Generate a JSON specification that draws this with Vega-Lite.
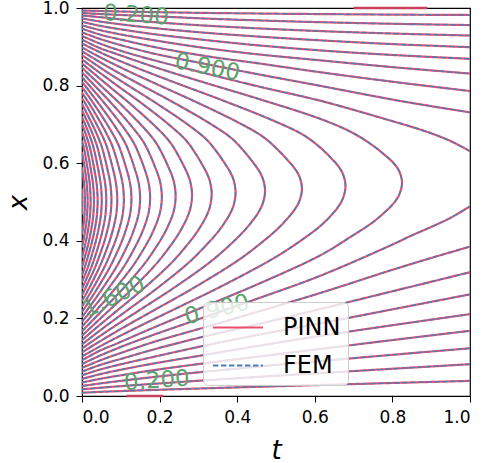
{
"$schema":"https://vega.github.io/schema/vega-lite/v6.json",
"width":388,"height":388,"autosize":"none",
"padding":{"left":82,"top":8,"right":15,"bottom":67},
"background":"white",
"config":{
"view":{"stroke":"black","strokeWidth":1.2},
"axis":{"domain":false,"grid":false,"tickColor":"black","tickSize":6,"tickWidth":1,"labelFont":"DejaVu Sans","labelFontSize":17,"labelColor":"black","titleFont":"DejaVu Sans","titleFontSize":26,"titleFontStyle":"italic","titleFontWeight":"normal","titleColor":"black"},
"legend":{"symbolType":"M-0.89,0H1.97","symbolSize":1225,"symbolStrokeWidth":2,"labelFont":"DejaVu Sans","labelFontSize":24,"labelColor":"black","labelOffset":36,"padding":7,"rowPadding":7,"fillColor":"rgba(255,255,255,0.8)","strokeColor":"#cccccc","cornerRadius":5}
},
"datasets":{
"z":[{"g":"z1","t":0.70,"x":1},{"g":"z1","t":0.89,"x":1},{"g":"z2","t":0.115,"x":0},{"g":"z2","t":0.21,"x":0}],
"lab":[{"k":"a","s":"0.200","t":0.139,"x":0.981},{"k":"b","s":"0.900","t":0.323,"x":0.847},{"k":"c","s":"1.600","t":0.0825,"x":0.255},{"k":"d","s":"0.900","t":0.348,"x":0.222},{"k":"e","s":"0.200","t":0.193,"x":0.039}],
"c":[
{"g":"0.1a","t":0,"x":0.0085},{"g":"0.1a","t":0.046,"x":0.0106},{"g":"0.1a","t":0.108,"x":0.013},{"g":"0.1a","t":0.19,"x":0.0158},{"g":"0.1a","t":0.312,"x":0.0196},{"g":"0.1a","t":0.454,"x":0.0238},{"g":"0.1a","t":0.616,"x":0.0284},{"g":"0.1a","t":0.798,"x":0.0335},{"g":"0.1a","t":1,"x":0.039},
{"g":"0.1b","t":0,"x":0.9936},{"g":"0.1b","t":0.046,"x":0.9923},{"g":"0.1b","t":0.108,"x":0.9908},{"g":"0.1b","t":0.19,"x":0.9893},{"g":"0.1b","t":0.312,"x":0.9874},{"g":"0.1b","t":0.454,"x":0.9858},{"g":"0.1b","t":0.616,"x":0.9843},{"g":"0.1b","t":0.798,"x":0.983},{"g":"0.1b","t":1,"x":0.982},
{"g":"0.2a","t":0,"x":0.0171},{"g":"0.2a","t":0.046,"x":0.0212},{"g":"0.2a","t":0.108,"x":0.026},{"g":"0.2a","t":0.19,"x":0.0317},{"g":"0.2a","t":0.312,"x":0.0401},{"g":"0.2a","t":0.454,"x":0.0493},{"g":"0.2a","t":0.616,"x":0.0592},{"g":"0.2a","t":0.798,"x":0.0701},{"g":"0.2a","t":1,"x":0.082},
{"g":"0.2b","t":0,"x":0.9871},{"g":"0.2b","t":0.046,"x":0.9846},{"g":"0.2b","t":0.108,"x":0.9817},{"g":"0.2b","t":0.19,"x":0.9786},{"g":"0.2b","t":0.312,"x":0.9731},{"g":"0.2b","t":0.454,"x":0.968},{"g":"0.2b","t":0.616,"x":0.9634},{"g":"0.2b","t":0.798,"x":0.9594},{"g":"0.2b","t":1,"x":0.956},
{"g":"0.3a","t":0,"x":0.0258},{"g":"0.3a","t":0.046,"x":0.0322},{"g":"0.3a","t":0.108,"x":0.04},{"g":"0.3a","t":0.19,"x":0.0495},{"g":"0.3a","t":0.312,"x":0.0622},{"g":"0.3a","t":0.454,"x":0.0758},{"g":"0.3a","t":0.616,"x":0.0902},{"g":"0.3a","t":0.798,"x":0.106},{"g":"0.3a","t":1,"x":0.123},
{"g":"0.3b","t":0,"x":0.9808},{"g":"0.3b","t":0.046,"x":0.9764},{"g":"0.3b","t":0.108,"x":0.97},{"g":"0.3b","t":0.19,"x":0.9632},{"g":"0.3b","t":0.312,"x":0.955},{"g":"0.3b","t":0.454,"x":0.9475},{"g":"0.3b","t":0.616,"x":0.9404},{"g":"0.3b","t":0.798,"x":0.9343},{"g":"0.3b","t":1,"x":0.929},
{"g":"0.4a","t":0,"x":0.0348},{"g":"0.4a","t":0.046,"x":0.0441},{"g":"0.4a","t":0.108,"x":0.0546},{"g":"0.4a","t":0.19,"x":0.0674},{"g":"0.4a","t":0.312,"x":0.0838},{"g":"0.4a","t":0.454,"x":0.1015},{"g":"0.4a","t":0.616,"x":0.1215},{"g":"0.4a","t":0.798,"x":0.1439},{"g":"0.4a","t":1,"x":0.168},
{"g":"0.4b","t":0,"x":0.9731},{"g":"0.4b","t":0.046,"x":0.9653},{"g":"0.4b","t":0.108,"x":0.9569},{"g":"0.4b","t":0.19,"x":0.9478},{"g":"0.4b","t":0.312,"x":0.9367},{"g":"0.4b","t":0.454,"x":0.9264},{"g":"0.4b","t":0.616,"x":0.9165},{"g":"0.4b","t":0.798,"x":0.9071},{"g":"0.4b","t":1,"x":0.899},
{"g":"0.5a","t":0,"x":0.044},{"g":"0.5a","t":0.046,"x":0.0561},{"g":"0.5a","t":0.108,"x":0.0693},{"g":"0.5a","t":0.19,"x":0.0847},{"g":"0.5a","t":0.312,"x":0.1052},{"g":"0.5a","t":0.454,"x":0.1292},{"g":"0.5a","t":0.616,"x":0.1551},{"g":"0.5a","t":0.798,"x":0.1821},{"g":"0.5a","t":1,"x":0.211},
{"g":"0.5b","t":0,"x":0.9644},{"g":"0.5b","t":0.046,"x":0.9542},{"g":"0.5b","t":0.108,"x":0.9438},{"g":"0.5b","t":0.19,"x":0.932},{"g":"0.5b","t":0.312,"x":0.9181},{"g":"0.5b","t":0.454,"x":0.9037},{"g":"0.5b","t":0.616,"x":0.8906},{"g":"0.5b","t":0.798,"x":0.8791},{"g":"0.5b","t":1,"x":0.869},
{"g":"0.6a","t":0,"x":0.0533},{"g":"0.6a","t":0.046,"x":0.0681},{"g":"0.6a","t":0.108,"x":0.0835},{"g":"0.6a","t":0.19,"x":0.1021},{"g":"0.6a","t":0.312,"x":0.129},{"g":"0.6a","t":0.454,"x":0.1576},{"g":"0.6a","t":0.616,"x":0.1876},{"g":"0.6a","t":0.798,"x":0.2229},{"g":"0.6a","t":1,"x":0.262},
{"g":"0.6b","t":0,"x":0.9555},{"g":"0.6b","t":0.046,"x":0.9431},{"g":"0.6b","t":0.108,"x":0.9303},{"g":"0.6b","t":0.19,"x":0.9162},{"g":"0.6b","t":0.312,"x":0.8976},{"g":"0.6b","t":0.454,"x":0.8805},{"g":"0.6b","t":0.616,"x":0.8649},{"g":"0.6b","t":0.798,"x":0.8478},{"g":"0.6b","t":1,"x":0.831},
{"g":"0.7a","t":0,"x":0.0627},{"g":"0.7a","t":0.046,"x":0.0798},{"g":"0.7a","t":0.108,"x":0.0978},{"g":"0.7a","t":0.19,"x":0.1214},{"g":"0.7a","t":0.312,"x":0.1526},{"g":"0.7a","t":0.454,"x":0.1852},{"g":"0.7a","t":0.616,"x":0.2247},{"g":"0.7a","t":0.798,"x":0.2694},{"g":"0.7a","t":1,"x":0.319},
{"g":"0.7b","t":0,"x":0.9468},{"g":"0.7b","t":0.046,"x":0.9317},{"g":"0.7b","t":0.108,"x":0.9168},{"g":"0.7b","t":0.19,"x":0.8987},{"g":"0.7b","t":0.312,"x":0.8772},{"g":"0.7b","t":0.454,"x":0.8574},{"g":"0.7b","t":0.616,"x":0.8342},{"g":"0.7b","t":0.798,"x":0.8103},{"g":"0.7b","t":1,"x":0.786},
{"g":"0.8a","t":0,"x":0.0724},{"g":"0.8a","t":0.046,"x":0.0915},{"g":"0.8a","t":0.108,"x":0.1136},{"g":"0.8a","t":0.19,"x":0.1409},{"g":"0.8a","t":0.312,"x":0.1758},{"g":"0.8a","t":0.454,"x":0.2176},{"g":"0.8a","t":0.616,"x":0.2661},{"g":"0.8a","t":0.798,"x":0.3246},{"g":"0.8a","t":0.9,"x":0.3558},{"g":"0.8a","t":1,"x":0.385},
{"g":"0.8b","t":0,"x":0.9373},{"g":"0.8b","t":0.046,"x":0.9204},{"g":"0.8b","t":0.108,"x":0.9021},{"g":"0.8b","t":0.19,"x":0.8814},{"g":"0.8b","t":0.312,"x":0.857},{"g":"0.8b","t":0.454,"x":0.8292},{"g":"0.8b","t":0.616,"x":0.799},{"g":"0.8b","t":0.798,"x":0.7644},{"g":"0.8b","t":0.9,"x":0.747},{"g":"0.8b","t":1,"x":0.731},
{"g":"0.9a","t":0,"x":0.0822},{"g":"0.9a","t":0.046,"x":0.1039},{"g":"0.9a","t":0.108,"x":0.1296},{"g":"0.9a","t":0.19,"x":0.1597},{"g":"0.9a","t":0.312,"x":0.202},{"g":"0.9a","t":0.454,"x":0.2515},{"g":"0.9a","t":0.616,"x":0.3106},{"g":"0.9a","t":0.798,"x":0.3894},{"g":"0.9a","t":0.85,"x":0.4139},{"g":"0.9a","t":0.9,"x":0.4357},{"g":"0.9a","t":0.95,"x":0.4593},{"g":"0.9a","t":1,"x":0.489},
{"g":"0.9b","t":0,"x":0.9279},{"g":"0.9b","t":0.046,"x":0.9085},{"g":"0.9b","t":0.108,"x":0.8873},{"g":"0.9b","t":0.19,"x":0.8641},{"g":"0.9b","t":0.312,"x":0.8332},{"g":"0.9b","t":0.454,"x":0.798},{"g":"0.9b","t":0.616,"x":0.7605},{"g":"0.9b","t":0.798,"x":0.709},{"g":"0.9b","t":0.85,"x":0.6935},{"g":"0.9b","t":0.9,"x":0.6771},{"g":"0.9b","t":0.95,"x":0.657},{"g":"0.9b","t":1,"x":0.631},
{"g":"1.0","t":0,"x":0.092},{"g":"1.0","t":0.046,"x":0.1168},{"g":"1.0","t":0.0889,"x":0.1349},{"g":"1.0","t":0.19,"x":0.1786},{"g":"1.0","t":0.312,"x":0.2292},{"g":"1.0","t":0.454,"x":0.2886},{"g":"1.0","t":0.6152,"x":0.3631},{"g":"1.0","t":0.6953,"x":0.4121},{"g":"1.0","t":0.7485,"x":0.447},{"g":"1.0","t":0.7829,"x":0.476},{"g":"1.0","t":0.7999,"x":0.493},{"g":"1.0","t":0.8166,"x":0.517},{"g":"1.0","t":0.8248,"x":0.5497},{"g":"1.0","t":0.8166,"x":0.5814},{"g":"1.0","t":0.7999,"x":0.6036},{"g":"1.0","t":0.7829,"x":0.6189},{"g":"1.0","t":0.7485,"x":0.6464},{"g":"1.0","t":0.6953,"x":0.6795},{"g":"1.0","t":0.6152,"x":0.7139},{"g":"1.0","t":0.454,"x":0.7661},{"g":"1.0","t":0.312,"x":0.8089},{"g":"1.0","t":0.19,"x":0.8469},{"g":"1.0","t":0.0889,"x":0.8815},{"g":"1.0","t":0.046,"x":0.8967},{"g":"1.0","t":0,"x":0.9185},
{"g":"1.1","t":0,"x":0.1019},{"g":"1.1","t":0.0573,"x":0.1338},{"g":"1.1","t":0.1416,"x":0.1767},{"g":"1.1","t":0.2429,"x":0.2259},{"g":"1.1","t":0.3612,"x":0.2838},{"g":"1.1","t":0.4963,"x":0.3564},{"g":"1.1","t":0.57,"x":0.4047},{"g":"1.1","t":0.6152,"x":0.439},{"g":"1.1","t":0.6439,"x":0.4676},{"g":"1.1","t":0.6581,"x":0.4845},{"g":"1.1","t":0.6721,"x":0.5084},{"g":"1.1","t":0.6791,"x":0.541},{"g":"1.1","t":0.6721,"x":0.573},{"g":"1.1","t":0.6581,"x":0.5956},{"g":"1.1","t":0.6439,"x":0.6111},{"g":"1.1","t":0.6152,"x":0.6393},{"g":"1.1","t":0.57,"x":0.6731},{"g":"1.1","t":0.4963,"x":0.7083},{"g":"1.1","t":0.3612,"x":0.7624},{"g":"1.1","t":0.2429,"x":0.8066},{"g":"1.1","t":0.1416,"x":0.8456},{"g":"1.1","t":0.0573,"x":0.8808},{"g":"1.1","t":0,"x":0.9087},
{"g":"1.2","t":0,"x":0.1122},{"g":"1.2","t":0.033,"x":0.133},{"g":"1.2","t":0.1043,"x":0.1752},{"g":"1.2","t":0.19,"x":0.2235},{"g":"1.2","t":0.2902,"x":0.2801},{"g":"1.2","t":0.4045,"x":0.3512},{"g":"1.2","t":0.4668,"x":0.3986},{"g":"1.2","t":0.5059,"x":0.4325},{"g":"1.2","t":0.5326,"x":0.461},{"g":"1.2","t":0.5461,"x":0.4778},{"g":"1.2","t":0.56,"x":0.5017},{"g":"1.2","t":0.5668,"x":0.5344},{"g":"1.2","t":0.56,"x":0.5665},{"g":"1.2","t":0.5461,"x":0.5892},{"g":"1.2","t":0.5326,"x":0.6049},{"g":"1.2","t":0.5059,"x":0.6334},{"g":"1.2","t":0.4668,"x":0.6679},{"g":"1.2","t":0.4045,"x":0.704},{"g":"1.2","t":0.2902,"x":0.7595},{"g":"1.2","t":0.19,"x":0.8048},{"g":"1.2","t":0.1043,"x":0.8445},{"g":"1.2","t":0.033,"x":0.8803},{"g":"1.2","t":0,"x":0.8987},
{"g":"1.3","t":0,"x":0.1224},{"g":"1.3","t":0.0141,"x":0.1324},{"g":"1.3","t":0.0751,"x":0.174},{"g":"1.3","t":0.1487,"x":0.2216},{"g":"1.3","t":0.2345,"x":0.2772},{"g":"1.3","t":0.3324,"x":0.3471},{"g":"1.3","t":0.386,"x":0.3939},{"g":"1.3","t":0.4194,"x":0.4274},{"g":"1.3","t":0.4424,"x":0.4556},{"g":"1.3","t":0.454,"x":0.4722},{"g":"1.3","t":0.4658,"x":0.4961},{"g":"1.3","t":0.4718,"x":0.5288},{"g":"1.3","t":0.4658,"x":0.561},{"g":"1.3","t":0.454,"x":0.584},{"g":"1.3","t":0.4424,"x":0.5999},{"g":"1.3","t":0.4194,"x":0.6287},{"g":"1.3","t":0.386,"x":0.6638},{"g":"1.3","t":0.3324,"x":0.7006},{"g":"1.3","t":0.2345,"x":0.7573},{"g":"1.3","t":0.1487,"x":0.8034},{"g":"1.3","t":0.0751,"x":0.8437},{"g":"1.3","t":0.0141,"x":0.8799},{"g":"1.3","t":0,"x":0.8888},
{"g":"1.4","t":0,"x":0.1329},{"g":"1.4","t":0.0519,"x":0.1731},{"g":"1.4","t":0.1157,"x":0.2201},{"g":"1.4","t":0.19,"x":0.2749},{"g":"1.4","t":0.275,"x":0.3438},{"g":"1.4","t":0.3214,"x":0.3901},{"g":"1.4","t":0.3505,"x":0.4232},{"g":"1.4","t":0.3704,"x":0.4512},{"g":"1.4","t":0.3805,"x":0.4678},{"g":"1.4","t":0.3907,"x":0.4916},{"g":"1.4","t":0.3958,"x":0.5243},{"g":"1.4","t":0.3907,"x":0.5567},{"g":"1.4","t":0.3805,"x":0.5798},{"g":"1.4","t":0.3704,"x":0.5958},{"g":"1.4","t":0.3505,"x":0.625},{"g":"1.4","t":0.3214,"x":0.6605},{"g":"1.4","t":0.275,"x":0.6979},{"g":"1.4","t":0.19,"x":0.7555},{"g":"1.4","t":0.1157,"x":0.8023},{"g":"1.4","t":0.0519,"x":0.8431},{"g":"1.4","t":0,"x":0.8786},
{"g":"1.5","t":0,"x":0.144},{"g":"1.5","t":0.033,"x":0.1724},{"g":"1.5","t":0.0889,"x":0.2188},{"g":"1.5","t":0.1541,"x":0.273},{"g":"1.5","t":0.2285,"x":0.3411},{"g":"1.5","t":0.2691,"x":0.387},{"g":"1.5","t":0.2945,"x":0.4199},{"g":"1.5","t":0.312,"x":0.4477},{"g":"1.5","t":0.3208,"x":0.4642},{"g":"1.5","t":0.3297,"x":0.4879},{"g":"1.5","t":0.3342,"x":0.5206},{"g":"1.5","t":0.3297,"x":0.5531},{"g":"1.5","t":0.3208,"x":0.5764},{"g":"1.5","t":0.312,"x":0.5926},{"g":"1.5","t":0.2945,"x":0.622},{"g":"1.5","t":0.2691,"x":0.6578},{"g":"1.5","t":0.2285,"x":0.6957},{"g":"1.5","t":0.1541,"x":0.7541},{"g":"1.5","t":0.0889,"x":0.8014},{"g":"1.5","t":0.033,"x":0.8426},{"g":"1.5","t":0,"x":0.8677},
{"g":"1.6","t":0,"x":0.1552},{"g":"1.6","t":0.0175,"x":0.1717},{"g":"1.6","t":0.0668,"x":0.2178},{"g":"1.6","t":0.1244,"x":0.2715},{"g":"1.6","t":0.19,"x":0.339},{"g":"1.6","t":0.2259,"x":0.3845},{"g":"1.6","t":0.2485,"x":0.4172},{"g":"1.6","t":0.2638,"x":0.4448},{"g":"1.6","t":0.2716,"x":0.4613},{"g":"1.6","t":0.2795,"x":0.4849},{"g":"1.6","t":0.2836,"x":0.5176},{"g":"1.6","t":0.2795,"x":0.5502},{"g":"1.6","t":0.2716,"x":0.5736},{"g":"1.6","t":0.2638,"x":0.5899},{"g":"1.6","t":0.2485,"x":0.6195},{"g":"1.6","t":0.2259,"x":0.6556},{"g":"1.6","t":0.19,"x":0.6939},{"g":"1.6","t":0.1244,"x":0.7529},{"g":"1.6","t":0.0668,"x":0.8007},{"g":"1.6","t":0.0175,"x":0.8422},{"g":"1.6","t":0,"x":0.8569},
{"g":"1.7","t":0,"x":0.1666},{"g":"1.7","t":0.0485,"x":0.2169},{"g":"1.7","t":0.0997,"x":0.2702},{"g":"1.7","t":0.1582,"x":0.3372},{"g":"1.7","t":0.19,"x":0.3824},{"g":"1.7","t":0.2101,"x":0.4149},{"g":"1.7","t":0.2237,"x":0.4424},{"g":"1.7","t":0.2307,"x":0.4588},{"g":"1.7","t":0.2378,"x":0.4824},{"g":"1.7","t":0.2413,"x":0.5151},{"g":"1.7","t":0.2378,"x":0.5478},{"g":"1.7","t":0.2307,"x":0.5713},{"g":"1.7","t":0.2237,"x":0.5876},{"g":"1.7","t":0.2101,"x":0.6175},{"g":"1.7","t":0.19,"x":0.6538},{"g":"1.7","t":0.1582,"x":0.6924},{"g":"1.7","t":0.0997,"x":0.7519},{"g":"1.7","t":0.0485,"x":0.8001},{"g":"1.7","t":0,"x":0.8459},
{"g":"1.8","t":0,"x":0.1786},{"g":"1.8","t":0.033,"x":0.2162},{"g":"1.8","t":0.0789,"x":0.2691},{"g":"1.8","t":0.1313,"x":0.3356},{"g":"1.8","t":0.1599,"x":0.3806},{"g":"1.8","t":0.1779,"x":0.413},{"g":"1.8","t":0.19,"x":0.4404},{"g":"1.8","t":0.1963,"x":0.4568},{"g":"1.8","t":0.2026,"x":0.4803},{"g":"1.8","t":0.2058,"x":0.513},{"g":"1.8","t":0.2026,"x":0.5458},{"g":"1.8","t":0.1963,"x":0.5693},{"g":"1.8","t":0.19,"x":0.5857},{"g":"1.8","t":0.1779,"x":0.6157},{"g":"1.8","t":0.1599,"x":0.6523},{"g":"1.8","t":0.1313,"x":0.6911},{"g":"1.8","t":0.0789,"x":0.7511},{"g":"1.8","t":0.033,"x":0.7996},{"g":"1.8","t":0,"x":0.8341},
{"g":"1.9","t":0,"x":0.1911},{"g":"1.9","t":0.0199,"x":0.2156},{"g":"1.9","t":0.0613,"x":0.2682},{"g":"1.9","t":0.1085,"x":0.3343},{"g":"1.9","t":0.1342,"x":0.3791},{"g":"1.9","t":0.1504,"x":0.4113},{"g":"1.9","t":0.1615,"x":0.4387},{"g":"1.9","t":0.167,"x":0.455},{"g":"1.9","t":0.1727,"x":0.4785},{"g":"1.9","t":0.1756,"x":0.5112},{"g":"1.9","t":0.1727,"x":0.544},{"g":"1.9","t":0.167,"x":0.5677},{"g":"1.9","t":0.1615,"x":0.5842},{"g":"1.9","t":0.1504,"x":0.6142},{"g":"1.9","t":0.1342,"x":0.6509},{"g":"1.9","t":0.1085,"x":0.69},{"g":"1.9","t":0.0613,"x":0.7504},{"g":"1.9","t":0.0199,"x":0.7991},{"g":"1.9","t":0,"x":0.8216},
{"g":"2.0","t":0,"x":0.2036},{"g":"2.0","t":0.0087,"x":0.2151},{"g":"2.0","t":0.0461,"x":0.2674},{"g":"2.0","t":0.0889,"x":0.3332},{"g":"2.0","t":0.1123,"x":0.3778},{"g":"2.0","t":0.1269,"x":0.4099},{"g":"2.0","t":0.1368,"x":0.4372},{"g":"2.0","t":0.142,"x":0.4535},{"g":"2.0","t":0.1472,"x":0.477},{"g":"2.0","t":0.1497,"x":0.5097},{"g":"2.0","t":0.1472,"x":0.5426},{"g":"2.0","t":0.142,"x":0.5662},{"g":"2.0","t":0.1368,"x":0.5828},{"g":"2.0","t":0.1269,"x":0.613},{"g":"2.0","t":0.1123,"x":0.6498},{"g":"2.0","t":0.0889,"x":0.6891},{"g":"2.0","t":0.0461,"x":0.7498},{"g":"2.0","t":0.0087,"x":0.7987},{"g":"2.0","t":0,"x":0.8093},
{"g":"2.1","t":0,"x":0.2165},{"g":"2.1","t":0.033,"x":0.2667},{"g":"2.1","t":0.0719,"x":0.3323},{"g":"2.1","t":0.0932,"x":0.3767},{"g":"2.1","t":0.1065,"x":0.4087},{"g":"2.1","t":0.1156,"x":0.4359},{"g":"2.1","t":0.1202,"x":0.4522},{"g":"2.1","t":0.125,"x":0.4757},{"g":"2.1","t":0.1274,"x":0.5084},{"g":"2.1","t":0.125,"x":0.5413},{"g":"2.1","t":0.1202,"x":0.565},{"g":"2.1","t":0.1156,"x":0.5816},{"g":"2.1","t":0.1065,"x":0.6119},{"g":"2.1","t":0.0932,"x":0.6489},{"g":"2.1","t":0.0719,"x":0.6883},{"g":"2.1","t":0.033,"x":0.7492},{"g":"2.1","t":0,"x":0.7967},
{"g":"2.2","t":0,"x":0.2308},{"g":"2.2","t":0.0217,"x":0.2662},{"g":"2.2","t":0.0573,"x":0.3314},{"g":"2.2","t":0.0767,"x":0.3757},{"g":"2.2","t":0.0889,"x":0.4076},{"g":"2.2","t":0.0972,"x":0.4348},{"g":"2.2","t":0.1015,"x":0.4511},{"g":"2.2","t":0.1057,"x":0.4745},{"g":"2.2","t":0.1079,"x":0.5072},{"g":"2.2","t":0.1057,"x":0.5402},{"g":"2.2","t":0.1015,"x":0.5639},{"g":"2.2","t":0.0972,"x":0.5806},{"g":"2.2","t":0.0889,"x":0.6109},{"g":"2.2","t":0.0767,"x":0.648},{"g":"2.2","t":0.0573,"x":0.6876},{"g":"2.2","t":0.0217,"x":0.7488},{"g":"2.2","t":0,"x":0.782},
{"g":"2.3","t":0,"x":0.2453},{"g":"2.3","t":0.0117,"x":0.2656},{"g":"2.3","t":0.0443,"x":0.3307},{"g":"2.3","t":0.0623,"x":0.3749},{"g":"2.3","t":0.0734,"x":0.4067},{"g":"2.3","t":0.0811,"x":0.4339},{"g":"2.3","t":0.0849,"x":0.4501},{"g":"2.3","t":0.0889,"x":0.4735},{"g":"2.3","t":0.0909,"x":0.5062},{"g":"2.3","t":0.0889,"x":0.5392},{"g":"2.3","t":0.0849,"x":0.563},{"g":"2.3","t":0.0811,"x":0.5797},{"g":"2.3","t":0.0734,"x":0.6101},{"g":"2.3","t":0.0623,"x":0.6473},{"g":"2.3","t":0.0443,"x":0.687},{"g":"2.3","t":0.0117,"x":0.7484},{"g":"2.3","t":0,"x":0.7676},
{"g":"2.4","t":0,"x":0.2598},{"g":"2.4","t":0.0175,"x":0.2964},{"g":"2.4","t":0.033,"x":0.33},{"g":"2.4","t":0.0495,"x":0.3741},{"g":"2.4","t":0.0598,"x":0.4059},{"g":"2.4","t":0.0668,"x":0.433},{"g":"2.4","t":0.0704,"x":0.4492},{"g":"2.4","t":0.074,"x":0.4726},{"g":"2.4","t":0.0759,"x":0.5053},{"g":"2.4","t":0.074,"x":0.5383},{"g":"2.4","t":0.0704,"x":0.5622},{"g":"2.4","t":0.0668,"x":0.5789},{"g":"2.4","t":0.0598,"x":0.6094},{"g":"2.4","t":0.0495,"x":0.6466},{"g":"2.4","t":0.033,"x":0.6865},{"g":"2.4","t":0.0175,"x":0.7181},{"g":"2.4","t":0,"x":0.7531},
{"g":"2.5","t":0,"x":0.2762},{"g":"2.5","t":0.023,"x":0.3295},{"g":"2.5","t":0.0382,"x":0.3734},{"g":"2.5","t":0.0477,"x":0.4052},{"g":"2.5","t":0.0542,"x":0.4323},{"g":"2.5","t":0.0575,"x":0.4484},{"g":"2.5","t":0.0609,"x":0.4718},{"g":"2.5","t":0.0626,"x":0.5046},{"g":"2.5","t":0.0609,"x":0.5376},{"g":"2.5","t":0.0575,"x":0.5614},{"g":"2.5","t":0.0542,"x":0.5782},{"g":"2.5","t":0.0477,"x":0.6087},{"g":"2.5","t":0.0382,"x":0.6461},{"g":"2.5","t":0.023,"x":0.686},{"g":"2.5","t":0,"x":0.7365},
{"g":"2.6","t":0,"x":0.2937},{"g":"2.6","t":0.0141,"x":0.329},{"g":"2.6","t":0.0282,"x":0.3728},{"g":"2.6","t":0.037,"x":0.4045},{"g":"2.6","t":0.043,"x":0.4316},{"g":"2.6","t":0.0461,"x":0.4478},{"g":"2.6","t":0.0493,"x":0.4711},{"g":"2.6","t":0.0508,"x":0.5039},{"g":"2.6","t":0.0493,"x":0.5369},{"g":"2.6","t":0.0461,"x":0.5608},{"g":"2.6","t":0.043,"x":0.5775},{"g":"2.6","t":0.037,"x":0.6081},{"g":"2.6","t":0.0282,"x":0.6456},{"g":"2.6","t":0.0141,"x":0.6856},{"g":"2.6","t":0,"x":0.719},
{"g":"2.7","t":0,"x":0.3114},{"g":"2.7","t":0.006,"x":0.3285},{"g":"2.7","t":0.0191,"x":0.3723},{"g":"2.7","t":0.0274,"x":0.404},{"g":"2.7","t":0.033,"x":0.431},{"g":"2.7","t":0.0359,"x":0.4471},{"g":"2.7","t":0.0388,"x":0.4705},{"g":"2.7","t":0.0403,"x":0.5033},{"g":"2.7","t":0.0388,"x":0.5363},{"g":"2.7","t":0.0359,"x":0.5602},{"g":"2.7","t":0.033,"x":0.577},{"g":"2.7","t":0.0274,"x":0.6076},{"g":"2.7","t":0.0191,"x":0.6451},{"g":"2.7","t":0.006,"x":0.6852},{"g":"2.7","t":0,"x":0.7016},
{"g":"2.8","t":0,"x":0.3322},{"g":"2.8","t":0.0111,"x":0.3718},{"g":"2.8","t":0.0188,"x":0.4035},{"g":"2.8","t":0.024,"x":0.4305},{"g":"2.8","t":0.0267,"x":0.4466},{"g":"2.8","t":0.0294,"x":0.47},{"g":"2.8","t":0.0308,"x":0.5027},{"g":"2.8","t":0.0294,"x":0.5358},{"g":"2.8","t":0.0267,"x":0.5597},{"g":"2.8","t":0.024,"x":0.5765},{"g":"2.8","t":0.0188,"x":0.6072},{"g":"2.8","t":0.0111,"x":0.6447},{"g":"2.8","t":0,"x":0.681},
{"g":"2.9","t":0,"x":0.3569},{"g":"2.9","t":0.0038,"x":0.3714},{"g":"2.9","t":0.011,"x":0.403},{"g":"2.9","t":0.0159,"x":0.43},{"g":"2.9","t":0.0185,"x":0.4461},{"g":"2.9","t":0.0209,"x":0.4694},{"g":"2.9","t":0.0222,"x":0.5022},{"g":"2.9","t":0.0209,"x":0.5352},{"g":"2.9","t":0.0185,"x":0.5592},{"g":"2.9","t":0.0159,"x":0.576},{"g":"2.9","t":0.011,"x":0.6067},{"g":"2.9","t":0.0038,"x":0.6443},{"g":"2.9","t":0,"x":0.6575},
{"g":"3.0","t":0,"x":0.3838},{"g":"3.0","t":0.004,"x":0.4026},{"g":"3.0","t":0.0087,"x":0.4295},{"g":"3.0","t":0.011,"x":0.4456},{"g":"3.0","t":0.0133,"x":0.469},{"g":"3.0","t":0.0145,"x":0.5017},{"g":"3.0","t":0.0133,"x":0.5348},{"g":"3.0","t":0.011,"x":0.5588},{"g":"3.0","t":0.0087,"x":0.5756},{"g":"3.0","t":0.004,"x":0.6064},{"g":"3.0","t":0,"x":0.6286},
{"g":"3.1","t":0,"x":0.4168},{"g":"3.1","t":0.002,"x":0.4291},{"g":"3.1","t":0.0042,"x":0.4452},{"g":"3.1","t":0.0064,"x":0.4686},{"g":"3.1","t":0.0075,"x":0.5013},{"g":"3.1","t":0.0064,"x":0.5344},{"g":"3.1","t":0.0042,"x":0.5584},{"g":"3.1","t":0.002,"x":0.5752},{"g":"3.1","t":0,"x":0.5892},
{"g":"3.2","t":0,"x":0.4682},{"g":"3.2","t":0.0011,"x":0.5009},{"g":"3.2","t":0,"x":0.534}
]
},
"encoding":{
"x":{"field":"t","type":"quantitative","scale":{"domain":[0,1],"nice":false,"zero":false},"axis":{"values":[0,0.2,0.4,0.6,0.8,1],"format":".1f","title":"t","labelPadding":7,"titlePadding":12}},
"y":{"field":"x","type":"quantitative","scale":{"domain":[0,1],"nice":false,"zero":false},"axis":{"values":[0,0.2,0.4,0.6,0.8,1],"format":".1f","title":"x","labelPadding":7,"titlePadding":10}}
},
"layer":[
{"data":{"name":"z"},"mark":{"type":"line","color":"#c8405e","strokeWidth":2.5,"clip":false},"encoding":{"detail":{"field":"g"}}},
{"data":{"name":"c"},"mark":{"type":"line","strokeWidth":2.2,"interpolate":"catmull-rom","clip":true},
 "encoding":{"detail":{"field":"g"},"order":{"value":null},
  "color":{"datum":"PINN","type":"nominal","scale":{"domain":["PINN","FEM"],"range":["#e8506e","#4a7db5"]},"legend":{"orient":"none","legendX":121,"legendY":294,"title":null}},
  "strokeDash":{"datum":"PINN","type":"nominal","scale":{"domain":["PINN","FEM"],"range":[[1,0],[5.5,2.5]]},"legend":{"orient":"none","legendX":121,"legendY":294,"title":null}}}},
{"data":{"name":"c"},"mark":{"type":"line","strokeWidth":1.4,"interpolate":"catmull-rom","clip":true},
 "encoding":{"detail":{"field":"g"},"order":{"value":null},
  "color":{"datum":"FEM","type":"nominal"},
  "strokeDash":{"datum":"FEM","type":"nominal"}}},
{"data":{"name":"lab"},"transform":[{"filter":"datum.k=='a'"}],"mark":{"type":"text","angle":4,"fontSize":23,"font":"DejaVu Sans","color":"#5aa46c"},"encoding":{"text":{"field":"s"}}},
{"data":{"name":"lab"},"transform":[{"filter":"datum.k=='b'"}],"mark":{"type":"text","angle":11,"fontSize":23,"font":"DejaVu Sans","color":"#5aa46c"},"encoding":{"text":{"field":"s"}}},
{"data":{"name":"lab"},"transform":[{"filter":"datum.k=='c'"}],"mark":{"type":"text","angle":334,"fontSize":23,"font":"DejaVu Sans","color":"#5aa46c"},"encoding":{"text":{"field":"s"}}},
{"data":{"name":"lab"},"transform":[{"filter":"datum.k=='d'"}],"mark":{"type":"text","angle":346,"fontSize":23,"font":"DejaVu Sans","color":"#5aa46c"},"encoding":{"text":{"field":"s"}}},
{"data":{"name":"lab"},"transform":[{"filter":"datum.k=='e'"}],"mark":{"type":"text","angle":356,"fontSize":23,"font":"DejaVu Sans","color":"#5aa46c"},"encoding":{"text":{"field":"s"}}}
]
}
